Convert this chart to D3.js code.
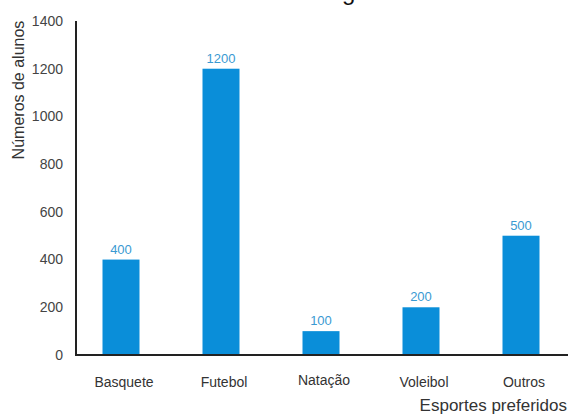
<!DOCTYPE html>
<html>
<head>
<meta charset="utf-8">
<script src="https://cdn.jsdelivr.net/npm/d3@7"></script>
<style>
body { margin: 0; background: #fff; }
text { font-family: "Liberation Sans", Arial, sans-serif; }
</style>
</head>
<body>
<script>
var categories = ["Basquete", "Futebol", "Natação", "Voleibol", "Outros"];
var values = [400, 1200, 100, 200, 500];
var yTicks = [0, 200, 400, 600, 800, 1000, 1200, 1400];

var w = 568;
var h = 417;

var svg = d3.select("body")
	.append("svg")
	.attr("width", w)
	.attr("height", h);

var x = d3.scaleBand()
	.domain(categories)
	.range([71, 571])
	.paddingInner(0.63)
	.paddingOuter(0.315);

var y = d3.scaleLinear()
	.domain([0, 1400])
	.range([355, 21]);

// cut off title, only the tail of a "g" shows
svg.append("text")
	.attr("x", 342)
	.attr("y", 0)
	.attr("font-size", 24)
	.attr("fill", "#111")
	.text("g");

// y tick labels, no tick marks
svg.selectAll(".ytick")
	.data(yTicks)
	.enter()
	.append("text")
	.attr("class", "ytick")
	.attr("x", 63)
	.attr("y", function(d) { return y(d); })
	.attr("dy", "0.35em")
	.attr("text-anchor", "end")
	.attr("font-size", 14)
	.attr("fill", "#444")
	.text(function(d) { return d; });

svg.selectAll(".bar")
	.data(values)
	.enter()
	.append("rect")
	.attr("class", "bar")
	.attr("x", function(d, i) { return x(categories[i]); })
	.attr("y", function(d) { return y(d); })
	.attr("width", x.bandwidth())
	.attr("height", function(d) { return y(0) - y(d); })
	.attr("fill", "#0a8ed9");

svg.selectAll(".val")
	.data(values)
	.enter()
	.append("text")
	.attr("class", "val")
	.attr("x", function(d, i) { return x(categories[i]) + x.bandwidth() / 2; })
	.attr("y", function(d) { return y(d) - 6; })
	.attr("text-anchor", "middle")
	.attr("font-size", 13)
	.attr("fill", "#3a9ad2")
	.text(function(d) { return d; });

// axes lines
svg.append("line")
	.attr("x1", 76).attr("x2", 76)
	.attr("y1", y(1400)).attr("y2", y(0) + 1)
	.attr("stroke", "#222")
	.attr("stroke-width", 2);
svg.append("line")
	.attr("x1", 75).attr("x2", w)
	.attr("y1", y(0)).attr("y2", y(0))
	.attr("stroke", "#222")
	.attr("stroke-width", 2);

svg.selectAll(".cat")
	.data(categories)
	.enter()
	.append("text")
	.attr("class", "cat")
	.attr("x", function(d) { return x(d) + x.bandwidth() / 2 + 3; })
	.attr("y", function(d) { return d == "Natação" ? 385 : 387; })
	.attr("text-anchor", "middle")
	.attr("font-size", 14)
	.attr("fill", "#333")
	.text(function(d) { return d; });

svg.append("text")
	.attr("x", 567)
	.attr("y", 411)
	.attr("text-anchor", "end")
	.attr("font-size", 17)
	.attr("fill", "#333")
	.text("Esportes preferidos");

svg.append("text")
	.attr("transform", "translate(24,90) rotate(-90)")
	.attr("text-anchor", "middle")
	.attr("font-size", 16)
	.attr("fill", "#333")
	.text("Números de alunos");
</script>
</body>
</html>
